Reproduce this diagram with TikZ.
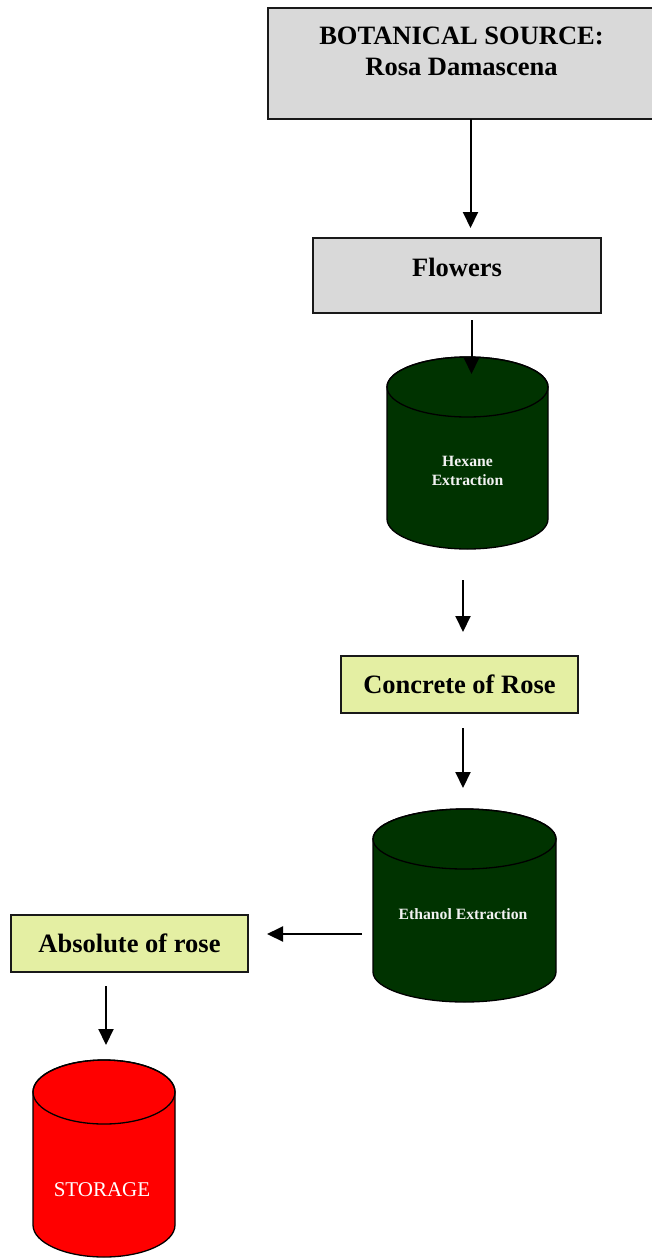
\documentclass[tikz,border=0pt]{standalone}
\usepackage{fontspec}
\setmainfont{Liberation Serif}
\usetikzlibrary{arrows.meta}
\definecolor{boxgray}{HTML}{D9D9D9}
\definecolor{boxyellow}{HTML}{E4EFA3}
\definecolor{cylgreen}{HTML}{003300}
\definecolor{cylred}{HTML}{FF0000}
\definecolor{cyltext}{HTML}{F2F2F2}
\tikzset{
  graybox/.style={draw=black!90, line width=1.6pt, fill=boxgray, inner sep=0pt},
  yellowbox/.style={draw=black!90, line width=1.6pt, fill=boxyellow, inner sep=0pt,
     font=\fontsize{26.5}{31}\selectfont\bfseries},
  bigtext/.style={inner sep=0pt, align=center, font=\fontsize{26.5}{31}\selectfont\bfseries},
  cyllabel/.style={inner sep=0pt, align=center, text=cyltext, font=\fontsize{15.7}{19}\selectfont\bfseries},
  storelabel/.style={inner sep=0pt, text=white, font=\fontsize{21}{25}\selectfont},
  cylline/.style={draw=black, line width=1.3pt},
  arr/.style={line width=2pt, -{Triangle[length=16pt,width=15pt]}}
}
\newcommand{\drawcyl}[6]{% cx, top-center y, bottom-center y, rx, ry, fill
  \path[cylline, fill=#6] (#1-#4,#2) -- (#1-#4,#3)
     arc[start angle=180, end angle=360, x radius=#4, y radius=#5]
     -- (#1+#4,#2)
     arc[start angle=0, end angle=180, x radius=#4, y radius=#5] -- cycle;
  \draw[cylline] (#1,#2) ellipse[x radius=#4, y radius=#5];
}
\begin{document}
\begin{tikzpicture}[x=1pt,y=1pt]
\useasboundingbox (0,0) rectangle (651,-1258);

% boxes
\node[graybox, minimum width=387pt, minimum height=111pt] (source) at (461.5,-63.5) {};
\node[bigtext] (sourcetext) at (461.5,-51) {BOTANICAL SOURCE:\\Rosa Damascena};
\node[graybox, minimum width=288pt, minimum height=75pt] (flowers) at (457,-275.5) {};
\node[bigtext] (flowerstext) at (457,-267) {Flowers};
\node[yellowbox, minimum width=237pt, minimum height=57pt] (concrete) at (459.5,-684.5) {Concrete of Rose};
\node[yellowbox, minimum width=237pt, minimum height=57pt] (absolute) at (129.5,-943.5) {Absolute of rose};

% cylinders
\drawcyl{467.5}{-387}{-519}{80.5}{30}{cylgreen}
\node[cyllabel] (hexane) at (467.5,-471) {Hexane\\Extraction};
\drawcyl{464.5}{-839}{-972}{91.5}{30}{cylgreen}
\node[cyllabel] (ethanol) at (463,-914) {Ethanol Extraction};
\drawcyl{104}{-1092}{-1225}{71}{32}{cylred}
\node[storelabel] (storage) at (102,-1190) {STORAGE};

% arrow end points
\coordinate (a1s) at (470.5,-119);  \coordinate (a1e) at (470.5,-228);
\coordinate (a2s) at (471.5,-320);  \coordinate (a2e) at (471.5,-374);
\coordinate (a3s) at (463,-580);    \coordinate (a3e) at (463,-632);
\coordinate (a4s) at (463,-728);    \coordinate (a4e) at (463,-788);
\coordinate (a5s) at (362,-934);    \coordinate (a5e) at (267,-934);
\coordinate (a6s) at (106,-986);    \coordinate (a6e) at (106,-1045);

\draw[arr] (a1s) -- (a1e);
\draw[arr] (a2s) -- (a2e);
\draw[arr] (a3s) -- (a3e);
\draw[arr] (a4s) -- (a4e);
\draw[arr] (a5s) -- (a5e);
\draw[arr] (a6s) -- (a6e);
\end{tikzpicture}
\end{document}
